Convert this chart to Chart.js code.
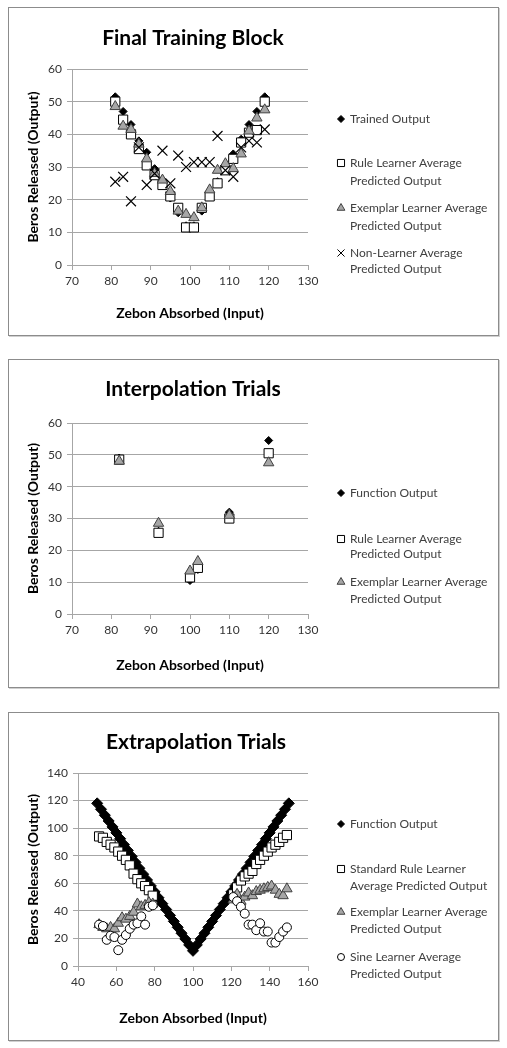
<!DOCTYPE html>
<html>
<head>
<meta charset="utf-8">
<script src="https://cdn.jsdelivr.net/npm/chart.js@4.4.1/dist/chart.umd.min.js"></script>
<style>
  body { margin: 0; background: #fff; width: 507px; height: 1048px; position: relative; overflow: hidden; }
  .panel { position: absolute; left: 8px; width: 491px; height: 329px; border: 1px solid #8c8c8c; box-sizing: border-box; background: #fff; box-shadow: 1px 1px 0 #d0d0d0; }
  .panel canvas { position: absolute; left: 0; top: 0; }
</style>
</head>
<body>
<div class="panel" style="top:7px"><canvas id="chart-train" width="489" height="327"></canvas></div>
<div class="panel" style="top:359px"><canvas id="chart-interp" width="489" height="327"></canvas></div>
<div class="panel" style="top:712px"><canvas id="chart-extrap" width="489" height="327"></canvas></div>

<script>
const FONT = 'Lato, "Open Sans", sans-serif';

// --- Final Training Block ---
const trainX = [81, 83, 85, 87, 89, 91, 93, 95, 97, 99, 101, 103, 105, 107, 109, 111, 113, 115, 117, 119];
const trainedY = [51.5, 47, 43, 38, 34.5, 29.5, 25, 20.5, 16, 12, 12, 16.5, 21, 25.5, 29.5, 34, 38.5, 43, 47, 51.5];
const trainRuleY = [50, 44.5, 40, 35.5, 30.5, 27.5, 24.5, 21, 17.5, 11.5, 11.5, 17.5, 21, 25, 29, 32.5, 37.5, 40.5, 41.3, 50];
const trainExemplarY = [48.5, 42.5, 41.5, 37, 32.5, 28, 26, 22.5, 16.5, 15.5, 14.5, 17.5, 23, 29, 31, 29.5, 34, 41, 45, 47.5];
const trainNonY = [25.5, 27, 19.5, 36, 24.5, 28, 35, 25, 33.5, 30, 31.5, 31.5, 31.5, 39.5, 29, 27, 36, 38, 37.5, 41.5];
const trainXTicks = [70, 130, 10];
const trainYTicks = [0, 60, 10];

// --- Interpolation Trials ---
const interpX = [82, 92, 100, 102, 110, 120];
const interpFuncY = [49, 26, 10.5, 14, 32, 54.5];
const interpRuleY = [48.5, 25.5, 11.5, 14.5, 30, 50.5];
const interpExemplarY = [48, 28.5, 13.5, 16.5, 31, 47.5];
const interpXTicks = [70, 130, 10];
const interpYTicks = [0, 60, 10];

// --- Extrapolation Trials ---
const extrapFuncX = [50, 52, 54, 56, 58, 60, 62, 64, 66, 68, 70, 72, 74, 76, 78, 80, 82, 84, 86, 88, 90, 92, 94, 96, 98, 100,
  102, 104, 106, 108, 110, 112, 114, 116, 118, 120, 122, 124, 126, 128, 130, 132, 134, 136, 138, 140, 142, 144, 146, 148, 150];
const extrapFuncY = [118, 113.7, 109.4, 105.2, 100.9, 96.6, 92.3, 88, 83.8, 79.5, 75.2, 70.9, 66.6, 62.4, 58.1, 53.8, 49.5, 45.2, 41, 36.7, 32.4, 28.1, 23.8, 19.6, 15.3, 11,
  15.3, 19.6, 23.8, 28.1, 32.4, 36.7, 41, 45.2, 49.5, 53.8, 58.1, 62.4, 66.6, 70.9, 75.2, 79.5, 83.8, 88, 92.3, 96.6, 100.9, 105.2, 109.4, 113.7, 118];
const extrapLearnX = [51, 53, 55, 57, 59, 61, 63, 65, 67, 69, 71, 73, 75, 77, 79,
  121, 123, 125, 127, 129, 131, 133, 135, 137, 139, 141, 143, 145, 147, 149];
const extrapRuleY = [94, 93, 90, 88, 86, 83, 80, 77, 73, 67, 63, 60, 58, 55, 51,
  52, 57, 62, 65, 67, 69, 74, 77, 80, 83, 86, 88, 90, 93, 95];
const extrapExemplarY = [30, 28, 27, 28, 27, 31, 35, 34, 36, 39, 45, 43, 44, 46, 45,
  48, 52, 47, 50, 53, 51, 54, 55, 56, 57, 58, 55, 52, 51, 56];
const extrapSineY = [30, 29, 19, 22, 21, 11.5, 19, 22.5, 27, 30, 31, 36, 30, 43, 44,
  50, 47, 43, 38, 30, 30, 26, 31, 25, 25, 17, 17, 21, 25, 28];
const extrapXTicks = [40, 160, 20];
const extrapYTicks = [0, 140, 20];

function pts(xs, ys) {
  return xs.map((x, i) => ({ x: x, y: ys[i] }));
}

const MARKS = {
  diamond: { pointStyle: 'rectRot', r: 4, fill: '#000', stroke: '#000', lw: 1 },
  square: { pointStyle: 'rect', r: 6.5, fill: '#fff', stroke: '#000', lw: 1 },
  triangle: { pointStyle: 'triangle', r: 6, fill: '#a6a6a6', stroke: '#404040', lw: 1 },
  cross: { pointStyle: 'crossRot', r: 7, fill: '#000', stroke: '#000', lw: 1.2 },
  circle: { pointStyle: 'circle', r: 4.5, fill: '#fff', stroke: '#000', lw: 1 },
};

function series(data, mark, order, r) {
  const m = MARKS[mark];
  return {
    data: data,
    mark: mark,
    order: order,
    pointStyle: m.pointStyle,
    pointRadius: r || m.r,
    pointHoverRadius: r || m.r,
    pointBackgroundColor: m.fill,
    pointBorderColor: m.stroke,
    pointBorderWidth: m.lw,
    showLine: false,
  };
}

const panelText = {
  id: 'panelText',
  afterDraw(chart, args, opts) {
    const ctx = chart.ctx;
    const area = chart.chartArea;
    ctx.save();
    // title
    ctx.font = 'bold 21px ' + FONT;
    ctx.fillStyle = '#000';
    ctx.textAlign = 'center';
    ctx.textBaseline = 'middle';
    ctx.fillText(opts.title, (area.left + area.right) / 2 + 3, opts.titleY);

    // legend
    ctx.textAlign = 'left';
    ctx.font = '12px ' + FONT;
    opts.items.forEach(it => {
      const ds = chart.data.datasets[it.ds];
      const m = MARKS[ds.mark];
      ctx.fillStyle = m.fill;
      ctx.strokeStyle = m.stroke;
      ctx.lineWidth = 1;
      Chart.helpers.drawPoint(ctx, { pointStyle: m.pointStyle, radius: it.r, rotation: 0, borderWidth: 1 }, opts.markX, it.ys[0]);
      ctx.fillStyle = '#404040';
      it.lines.forEach((line, i) => ctx.fillText(line, opts.textX, it.ys[i]));
    });
    ctx.restore();
  }
};

function axes(xt, yt, box) {
  const tickFont = { family: FONT, size: 12 };
  const titleFont = { family: FONT, size: 14, weight: 'bold' };
  return {
    x: {
      type: 'linear',
      min: xt[0], max: xt[1],
      ticks: { stepSize: xt[2], font: tickFont, color: '#333', padding: 4, maxRotation: 0 },
      grid: { drawOnChartArea: false, drawTicks: true, tickLength: 5, color: '#a6a6a6' },
      border: { color: '#a6a6a6' },
      title: { display: true, text: 'Zebon Absorbed (Input)', font: titleFont, color: '#000', padding: { top: 0, bottom: 13 } },
      afterFit: s => { s.height = box.h - box.bottom; },
    },
    y: {
      type: 'linear',
      min: yt[0], max: yt[1],
      ticks: { stepSize: yt[2], font: tickFont, color: '#333', padding: 5 },
      grid: { color: '#a6a6a6', tickLength: 5 },
      border: { color: '#a6a6a6' },
      title: { display: true, text: 'Beros Released (Output)', font: titleFont, color: '#000', padding: { top: 16, bottom: 0 } },
      afterFit: s => { s.width = box.left; },
    },
  };
}

function buildChart(id, datasets, xt, yt, box, text) {
  const ctx = document.getElementById(id).getContext('2d');
  return new Chart(ctx, {
    type: 'scatter',
    data: { datasets: datasets },
    options: {
      responsive: false,
      animation: false,
      events: [],
      layout: { padding: { top: box.top, right: 489 - box.right, left: 0, bottom: 0 } },
      plugins: { legend: { display: false }, tooltip: { enabled: false }, panelText: text },
      scales: axes(xt, yt, box),
    },
    plugins: [panelText],
  });
}

buildChart('chart-train', [
  series(pts(trainX, trainedY), 'diamond', 3),
  series(pts(trainX, trainRuleY), 'square', 2),
  series(pts(trainX, trainExemplarY), 'triangle', 1),
  series(pts(trainX, trainNonY), 'cross', 0),
], trainXTicks, trainYTicks, { left: 63, right: 299, top: 61, bottom: 257, h: 327 }, {
  title: 'Final Training Block', titleY: 30, markX: 332, textX: 341,
  items: [
    { ds: 0, r: 3.5, lines: ['Trained Output'], ys: [111] },
    { ds: 1, r: 5, lines: ['Rule Learner Average', 'Predicted Output'], ys: [155, 173] },
    { ds: 2, r: 4.5, lines: ['Exemplar Learner Average', 'Predicted Output'], ys: [200, 218] },
    { ds: 3, r: 5, lines: ['Non-Learner Average', 'Predicted Output'], ys: [245, 261] },
  ],
});

buildChart('chart-interp', [
  series(pts(interpX, interpFuncY), 'diamond', 2),
  series(pts(interpX, interpRuleY), 'square', 1),
  series(pts(interpX, interpExemplarY), 'triangle', 0),
], interpXTicks, interpYTicks, { left: 63, right: 299, top: 63, bottom: 254, h: 327 }, {
  title: 'Interpolation Trials', titleY: 29, markX: 332, textX: 341,
  items: [
    { ds: 0, r: 3.5, lines: ['Function Output'], ys: [133] },
    { ds: 1, r: 5, lines: ['Rule Learner Average', 'Predicted Output'], ys: [179, 194] },
    { ds: 2, r: 4.5, lines: ['Exemplar Learner Average', 'Predicted Output'], ys: [222, 239] },
  ],
});

buildChart('chart-extrap', [
  series(pts(extrapFuncX, extrapFuncY), 'diamond', 3, 5.5),
  series(pts(extrapLearnX, extrapRuleY), 'square', 2),
  series(pts(extrapLearnX, extrapExemplarY), 'triangle', 1),
  series(pts(extrapLearnX, extrapSineY), 'circle', 0),
], extrapXTicks, extrapYTicks, { left: 69, right: 299, top: 60, bottom: 253, h: 327 }, {
  title: 'Extrapolation Trials', titleY: 29, markX: 332, textX: 341,
  items: [
    { ds: 0, r: 3.5, lines: ['Function Output'], ys: [111] },
    { ds: 1, r: 5, lines: ['Standard Rule Learner', 'Average Predicted Output'], ys: [156, 173] },
    { ds: 2, r: 4.5, lines: ['Exemplar Learner Average', 'Predicted Output'], ys: [199, 216] },
    { ds: 3, r: 3.5, lines: ['Sine Learner Average', 'Predicted Output'], ys: [244, 261] },
  ],
});
</script>
</body>
</html>
